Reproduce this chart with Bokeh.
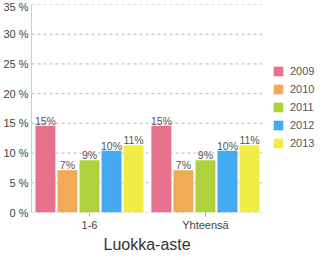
from bokeh.plotting import figure
from bokeh.models import ColumnDataSource, Range1d, Legend, LegendItem, PrintfTickFormatter, FixedTicker, Title
from bokeh.transform import dodge
from bokeh.embed import file_html
from bokeh.resources import INLINE
from bokeh.core.properties import value

categories = ["1-6", "Yhteensä"]
years = ["2009", "2010", "2011", "2012", "2013"]
v2009 = [14.6, 14.6]
v2010 = [7.1, 7.1]
v2011 = [8.8, 8.8]
v2012 = [10.4, 10.4]
v2013 = [11.3, 11.3]
series = [v2009, v2010, v2011, v2012, v2013]
colors = ["#e8718e", "#efab56", "#afd13b", "#44aaf2", "#f0ee46"]
yticks = [0, 5, 10, 15, 20, 25, 30, 35]

FONT = "Liberation Sans"
xpos = [i + 0.5 for i in range(len(categories))]

p = figure(width=336, height=260, x_range=Range1d(0, 2.63),
           y_range=Range1d(0, 35), output_backend="svg", toolbar_location=None,
           min_border_left=31, min_border_right=0, min_border_top=4, min_border_bottom=48)
p.outline_line_color = None
p.background_fill_color = "white"

# dashed horizontal gridlines across the category area only
gsrc = ColumnDataSource(dict(y=yticks, x0=[0] * len(yticks), x1=[len(categories)] * len(yticks)))
p.segment(x0="x0", x1="x1", y0="y", y1="y", source=gsrc, line_color="#bbbbbb",
          line_dash="3 3", line_width=1)

step = 0.19
width = 0.172
items = []
for i, (yr, vals, c) in enumerate(zip(years, series, colors)):
    src = ColumnDataSource(dict(x=xpos, val=vals, lab=[f"{v:.0f}%" for v in vals]))
    off = (i - 2) * step
    r = p.vbar(x=dodge("x", off), top="val", width=width, source=src,
               fill_color=c, line_color=None)
    p.text(x=dodge("x", off), y="val", text="lab", source=src,
           text_align="center", text_baseline="bottom", text_font=value(FONT),
           text_font_size="10.5px", text_color="#555", y_offset=1)
    items.append(LegendItem(label=yr, renderers=[r]))

legend = Legend(items=items, location=(241, 63), glyph_width=12, glyph_height=12,
                label_height=12, spacing=6, label_standoff=6, padding=0, margin=0,
                border_line_color=None, background_fill_alpha=0,
                label_text_font=FONT, label_text_font_size="11px", label_text_color="#555")
p.add_layout(legend)

p.yaxis.ticker = FixedTicker(ticks=yticks)
p.yaxis.formatter = PrintfTickFormatter(format="%d %%")
p.yaxis.axis_line_color = "#cccccc"
p.yaxis.major_tick_line_color = None
p.yaxis.minor_tick_line_color = None
p.yaxis.major_tick_out = 0
p.yaxis.major_tick_in = 0
p.yaxis.minor_tick_out = 0
p.yaxis.minor_tick_in = 0
p.yaxis.major_label_standoff = 3
p.yaxis.major_label_text_font = FONT
p.yaxis.major_label_text_font_size = "11px"
p.yaxis.major_label_text_color = "#444"

p.xaxis.ticker = FixedTicker(ticks=xpos)
p.xaxis.major_label_overrides = {x: c for x, c in zip(xpos, categories)}
p.xaxis.axis_line_color = None
p.xaxis.major_tick_line_color = "#aaaaaa"
p.xaxis.minor_tick_line_color = None
p.xaxis.major_tick_in = 0
p.xaxis.major_tick_out = 4
p.xaxis.minor_tick_in = 0
p.xaxis.minor_tick_out = 0
p.xaxis.major_label_standoff = 2
p.xaxis.major_label_text_font = FONT
p.xaxis.major_label_text_font_size = "11px"
p.xaxis.major_label_text_color = "#444"

p.xgrid.grid_line_color = None
p.ygrid.grid_line_color = None

p.add_layout(Title(text="Luokka-aste", align="left", offset=72, text_font=FONT,
                   text_font_size="16px", text_font_style="normal", text_color="#333",
                   standoff=0), "below")

open("out.html", "w").write(file_html(p, INLINE))
